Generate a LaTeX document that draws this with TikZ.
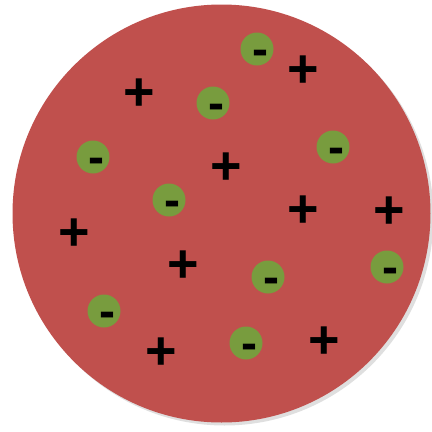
\documentclass[tikz,border=0pt]{standalone}
\usepackage{fontspec}
\setmainfont{Liberation Sans}
\usetikzlibrary{shadows}

\definecolor{puddingred}{HTML}{C0504D}
\definecolor{ballgreen}{HTML}{789C3E}

\tikzset{
  pudding/.style={fill=puddingred, drop shadow={shadow xshift=3pt, shadow yshift=-3pt, opacity=0.25}},
  electron/.style={circle, fill=ballgreen, minimum size=33pt, inner sep=0pt},
  negsign/.style={font=\fontsize{48}{48}\selectfont\bfseries, inner sep=0pt, text height=24pt, text depth=0pt},
  possign/.style={font=\fontsize{54}{54}\selectfont\bfseries, inner sep=0pt, text height=37pt, text depth=0pt}
}

\begin{document}
\begin{tikzpicture}[x=1pt, y=-1pt]
    \useasboundingbox (0,0) rectangle (432,432);

    % Positive sphere
    \coordinate (O) at (221.5,213.5);
    \fill[pudding] (O) circle (209pt);

    % Electrons (green balls)
    \node[electron] (e1) at (257,49) {};
    \node[electron] (e2) at (213,103) {};
    \node[electron] (e3) at (333,147) {};
    \node[electron] (e4) at (93,157) {};
    \node[electron] (e5) at (169,200) {};
    \node[electron] (e6) at (387,267) {};
    \node[electron] (e7) at (268,277) {};
    \node[electron] (e8) at (104,311) {};
    \node[electron] (e9) at (246,343) {};

    % Minus signs, a little below right of each ball centre
    \node[negsign] (m1) at ([shift={(3,4)}]e1.center) {-};
    \node[negsign] (m2) at ([shift={(3,4)}]e2.center) {-};
    \node[negsign] (m3) at ([shift={(3,4)}]e3.center) {-};
    \node[negsign] (m4) at ([shift={(3,4)}]e4.center) {-};
    \node[negsign] (m5) at ([shift={(3,4)}]e5.center) {-};
    \node[negsign] (m6) at ([shift={(3,4)}]e6.center) {-};
    \node[negsign] (m7) at ([shift={(3,4)}]e7.center) {-};
    \node[negsign] (m8) at ([shift={(3,4)}]e8.center) {-};
    \node[negsign] (m9) at ([shift={(3,4)}]e9.center) {-};

    % Plus signs
    \node[possign] (p1) at (303,69) {+};
    \node[possign] (p2) at (139,92) {+};
    \node[possign] (p3) at (226,166) {+};
    \node[possign] (p4) at (303,209) {+};
    \node[possign] (p5) at (389,210) {+};
    \node[possign] (p6) at (74,232) {+};
    \node[possign] (p7) at (183,264) {+};
    \node[possign] (p8) at (324,340) {+};
    \node[possign] (p9) at (161,351) {+};
\end{tikzpicture}
\end{document}
